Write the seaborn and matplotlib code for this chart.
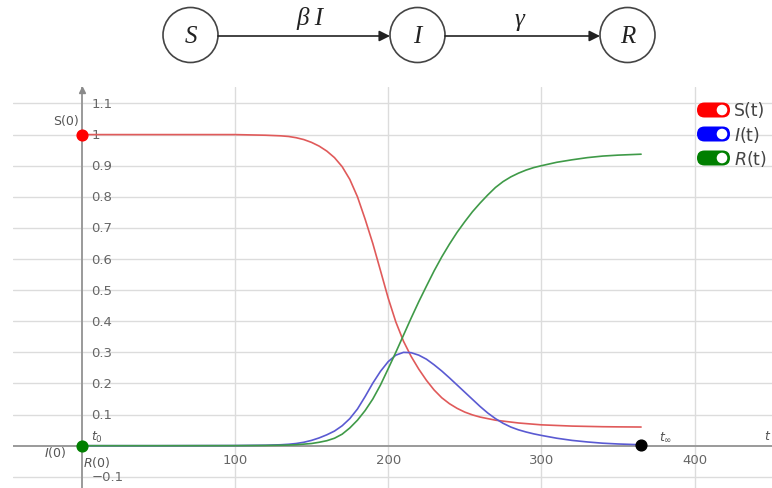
import numpy as np
import pandas as pd
import matplotlib
matplotlib.use("Agg")
import matplotlib.pyplot as plt
import seaborn as sns
from matplotlib.patches import Circle, FancyBboxPatch

# --- data ---
days = [0, 50, 100, 120, 130, 135, 140, 145, 150, 155, 160, 165, 170, 175, 180,
        185, 190, 195, 200, 205, 210, 215, 220, 225, 230, 235, 240, 245, 250,
        255, 260, 265, 270, 275, 280, 285, 290, 295, 300, 310, 320, 330, 340,
        350, 365]
susceptible = [1.0, 1.0, 1.0, 0.998, 0.996, 0.994, 0.99, 0.984, 0.975, 0.963, 0.947,
               0.926, 0.897, 0.856, 0.80, 0.728, 0.65, 0.563, 0.475, 0.398, 0.336,
               0.287, 0.246, 0.21, 0.179, 0.154, 0.135, 0.12, 0.108, 0.099, 0.092,
               0.087, 0.082, 0.079, 0.076, 0.073, 0.071, 0.069, 0.067, 0.065, 0.063,
               0.062, 0.061, 0.0605, 0.06]
infected = [0.0, 0.0, 0.0005, 0.0015, 0.003, 0.0045, 0.007, 0.011, 0.017, 0.025, 0.035,
            0.047, 0.064, 0.087, 0.118, 0.158, 0.201, 0.239, 0.27, 0.291, 0.30,
            0.299, 0.291, 0.278, 0.26, 0.24, 0.218, 0.195, 0.172, 0.149, 0.126,
            0.105, 0.087, 0.072, 0.06, 0.051, 0.044, 0.038, 0.033, 0.024, 0.017,
            0.012, 0.008, 0.0055, 0.003]
recovered = [0.0, 0.0, 0.0002, 0.0008, 0.0015, 0.002, 0.003, 0.005, 0.007, 0.011, 0.016,
             0.024, 0.037, 0.057, 0.082, 0.113, 0.15, 0.195, 0.247, 0.30, 0.355,
             0.41, 0.463, 0.513, 0.562, 0.607, 0.648, 0.686, 0.72, 0.752, 0.78,
             0.806, 0.83, 0.849, 0.864, 0.876, 0.886, 0.894, 0.90, 0.911, 0.919,
             0.926, 0.931, 0.934, 0.937]

series = ["S(t)", "I(t)", "R(t)"]
colors = {"S(t)": "#e05a5a", "I(t)": "#5a5ad2", "R(t)": "#3f9a48"}
toggle_colors = ["#ff0000", "#0000ff", "#007f00"]
legend_labels = ["S(t)", r"$I$(t)", r"$R$(t)"]

y_ticks = [-0.1, 0.1, 0.2, 0.3, 0.4, 0.5, 0.6, 0.7, 0.8, 0.9, 1.0, 1.1]
x_ticks = [100, 200, 300, 400]

df = pd.DataFrame({"t": days, "S(t)": susceptible, "I(t)": infected, "R(t)": recovered})
long_df = df.melt(id_vars="t", var_name="series", value_name="value")

sns.set_style("white")
fig = plt.figure(figsize=(7.72, 4.89), dpi=100)

# --- main plot ---
ax = fig.add_axes([13 / 772, 0, 759 / 772, 401 / 489])
ax.set_xlim(-44.7, 450.4)
ax.set_ylim(-0.136, 1.153)
for s in ax.spines.values():
    s.set_visible(False)
ax.set_xticks(x_ticks)
ax.set_yticks(y_ticks)
ax.tick_params(length=0, labelbottom=False, labelleft=False)
ax.grid(True, color="#dcdcdc", lw=1.0)
ax.axhline(0, color="#9a9a9a", lw=1.4, zorder=1)
ax.axvline(0, color="#9a9a9a", lw=1.4, zorder=1)

sns.lineplot(data=long_df, x="t", y="value", hue="series", hue_order=series,
             palette=colors, lw=1.2, legend=False, ax=ax, zorder=3)
ax.set_xlabel("")
ax.set_ylabel("")

for v in y_ticks:
    ax.text(6.5, v, f"{v:g}".replace("-", "\u2212"), ha="left", va="center",
            color="#666666", fontsize=9.5, zorder=2)
for t in x_ticks:
    ax.text(t, -0.043, str(t), ha="center", va="center", color="#666666", fontsize=9.5)

ax.scatter([days[0]], [susceptible[0]], s=60, color="#ff0000", zorder=5, clip_on=False)
ax.scatter([days[0]], [recovered[0]], s=60, color="#007f00", zorder=5, clip_on=False)
ax.scatter([days[-1]], [infected[-1]], s=60, color="#000000", zorder=5, clip_on=False)

# --- overlay in pixel coordinates: diagram, legend, annotations ---
ov = fig.add_axes([0, 0, 1, 1])
ov.set_xlim(0, 772)
ov.set_ylim(489, 0)
ov.axis("off")
ov.patch.set_alpha(0)

ov.plot([81.5], [91], marker="^", color="#8a8a8a", ms=5)

lab = dict(color="#555555", fontsize=9, ha="center", va="center")
ov.text(65.5, 122, "S(0)", **lab)
ov.text(55, 452, r"$I$(0)", **lab)
ov.text(97, 462, r"$R$(0)", **lab)
ov.text(97, 437, r"$t_0$", **lab)
ov.text(666, 437, r"$t_\infty$", **lab)
ov.text(768, 437, r"$t$", **lab)

# compartment diagram
serif = dict(family="Liberation Serif", style="italic", ha="center", va="center",
             color="#222222")
nodes = [("S", 190.5), ("I", 417.5), ("R", 627.5)]
for name, cx in nodes:
    ov.add_patch(Circle((cx, 36), 27.5, facecolor="white", edgecolor="#444444", lw=1.2))
    ov.text(cx, 37, name, fontsize=18, **serif)
arrow = dict(arrowstyle="-|>", color="#222222", lw=1.2, mutation_scale=16,
             shrinkA=0, shrinkB=0)
ov.annotate("", xy=(390, 37), xytext=(218, 37), arrowprops=arrow)
ov.annotate("", xy=(600, 37), xytext=(445, 37), arrowprops=arrow)
ov.text(310, 19, "\u03b2 I", fontsize=18, **serif)
ov.text(519, 20, "\u03b3", fontsize=18, **serif)

# toggle-style legend
for i, (c, txt) in enumerate(zip(toggle_colors, legend_labels)):
    cy = 111 + 24 * i
    ov.add_patch(FancyBboxPatch((697, cy - 7.5), 33, 15,
                                boxstyle="round,pad=0,rounding_size=7.5",
                                facecolor=c, edgecolor="none"))
    ov.add_patch(Circle((722, cy), 5.3, facecolor="white", edgecolor="none"))
    ov.text(734, cy, txt, fontsize=12.5, ha="left", va="center", color="#444444")

fig.savefig("out.png", dpi=100)
